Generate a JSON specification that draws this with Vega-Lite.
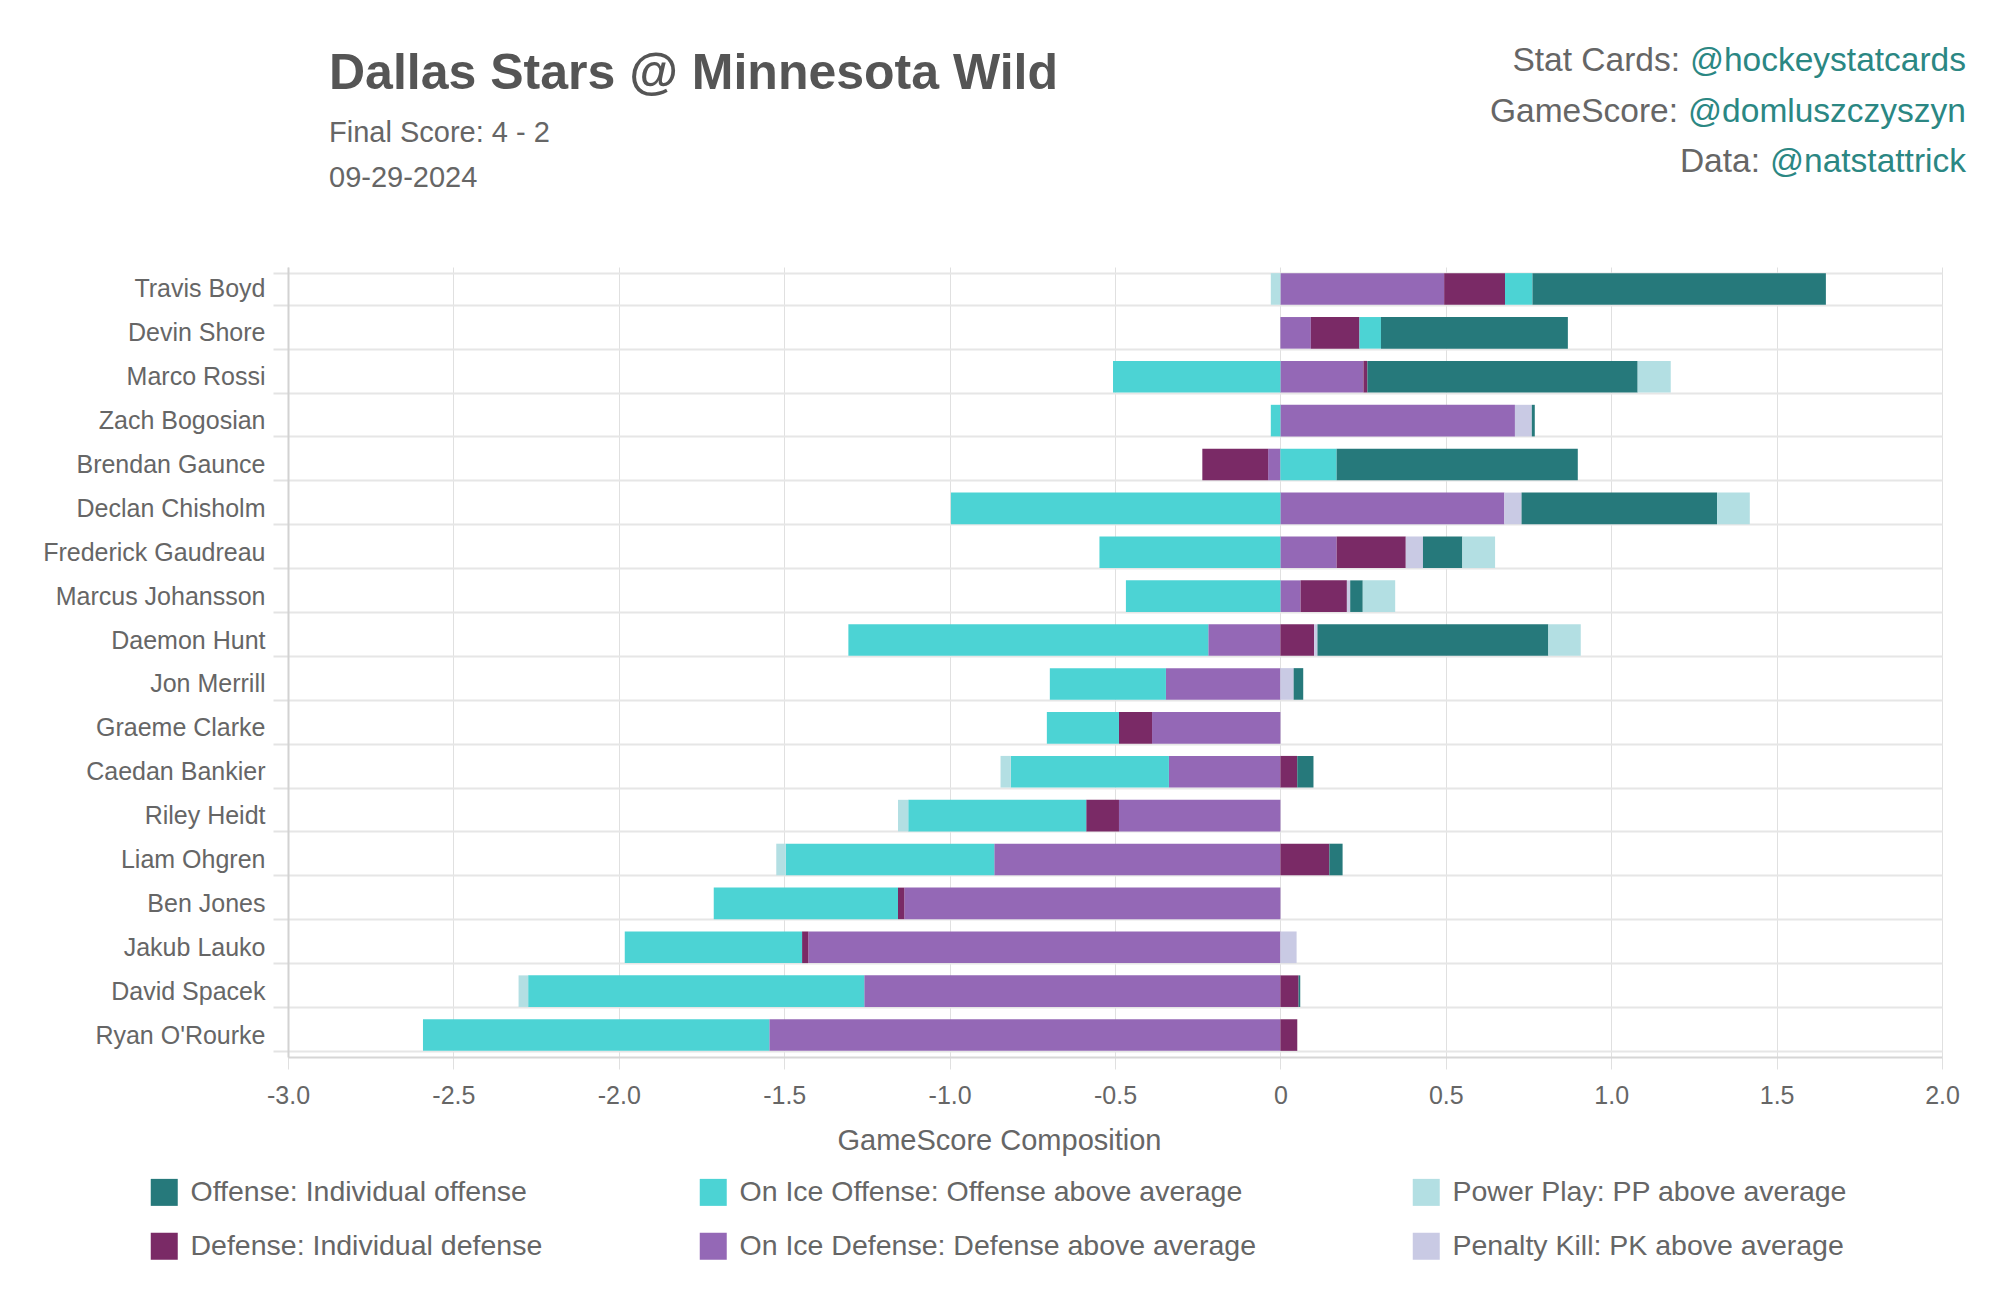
{
  "$schema": "https://vega.github.io/schema/vega-lite/v6.json",
  "width": 1654,
  "height": 790,
  "autosize": {"type": "none"},
  "padding": {"left": 288, "top": 267, "right": 58, "bottom": 244},
  "background": "white",
  "config": {
    "font": "Liberation Sans",
    "view": {"stroke": null},
    "legend": {"padding": 0}
  },
  "datasets": {
    "comps": [
      {"comp": "oid", "k": 1, "label": "On Ice Defense: Defense above average"},
      {"comp": "def", "k": 2, "label": "Defense: Individual defense"},
      {"comp": "oio", "k": 3, "label": "On Ice Offense: Offense above average"},
      {"comp": "pk", "k": 4, "label": "Penalty Kill: PK above average"},
      {"comp": "off", "k": 5, "label": "Offense: Individual offense"},
      {"comp": "pp", "k": 6, "label": "Power Play: PP above average"}
    ],
    "scores": [
      {"player": "Travis Boyd", "comp": "oid", "v": 0.495},
      {"player": "Travis Boyd", "comp": "def", "v": 0.184},
      {"player": "Travis Boyd", "comp": "oio", "v": 0.083},
      {"player": "Travis Boyd", "comp": "off", "v": 0.887},
      {"player": "Travis Boyd", "comp": "pp", "v": -0.029},
      {"player": "Devin Shore", "comp": "oid", "v": 0.092},
      {"player": "Devin Shore", "comp": "def", "v": 0.147},
      {"player": "Devin Shore", "comp": "oio", "v": 0.065},
      {"player": "Devin Shore", "comp": "off", "v": 0.565},
      {"player": "Marco Rossi", "comp": "oid", "v": 0.251},
      {"player": "Marco Rossi", "comp": "def", "v": 0.012},
      {"player": "Marco Rossi", "comp": "oio", "v": -0.506},
      {"player": "Marco Rossi", "comp": "off", "v": 0.817},
      {"player": "Marco Rossi", "comp": "pp", "v": 0.1},
      {"player": "Zach Bogosian", "comp": "oid", "v": 0.709},
      {"player": "Zach Bogosian", "comp": "oio", "v": -0.029},
      {"player": "Zach Bogosian", "comp": "pk", "v": 0.051},
      {"player": "Zach Bogosian", "comp": "off", "v": 0.009},
      {"player": "Brendan Gaunce", "comp": "oid", "v": -0.037},
      {"player": "Brendan Gaunce", "comp": "def", "v": -0.199},
      {"player": "Brendan Gaunce", "comp": "oio", "v": 0.17},
      {"player": "Brendan Gaunce", "comp": "off", "v": 0.729},
      {"player": "Declan Chisholm", "comp": "oid", "v": 0.677},
      {"player": "Declan Chisholm", "comp": "oio", "v": -0.996},
      {"player": "Declan Chisholm", "comp": "pk", "v": 0.052},
      {"player": "Declan Chisholm", "comp": "off", "v": 0.591},
      {"player": "Declan Chisholm", "comp": "pp", "v": 0.099},
      {"player": "Frederick Gaudreau", "comp": "oid", "v": 0.17},
      {"player": "Frederick Gaudreau", "comp": "def", "v": 0.209},
      {"player": "Frederick Gaudreau", "comp": "oio", "v": -0.547},
      {"player": "Frederick Gaudreau", "comp": "pk", "v": 0.052},
      {"player": "Frederick Gaudreau", "comp": "off", "v": 0.119},
      {"player": "Frederick Gaudreau", "comp": "pp", "v": 0.099},
      {"player": "Marcus Johansson", "comp": "oid", "v": 0.061},
      {"player": "Marcus Johansson", "comp": "def", "v": 0.14},
      {"player": "Marcus Johansson", "comp": "oio", "v": -0.467},
      {"player": "Marcus Johansson", "comp": "pk", "v": 0.01},
      {"player": "Marcus Johansson", "comp": "off", "v": 0.038},
      {"player": "Marcus Johansson", "comp": "pp", "v": 0.098},
      {"player": "Daemon Hunt", "comp": "oid", "v": -0.218},
      {"player": "Daemon Hunt", "comp": "def", "v": 0.102},
      {"player": "Daemon Hunt", "comp": "oio", "v": -1.088},
      {"player": "Daemon Hunt", "comp": "pk", "v": 0.01},
      {"player": "Daemon Hunt", "comp": "off", "v": 0.698},
      {"player": "Daemon Hunt", "comp": "pp", "v": 0.098},
      {"player": "Jon Merrill", "comp": "oid", "v": -0.346},
      {"player": "Jon Merrill", "comp": "oio", "v": -0.351},
      {"player": "Jon Merrill", "comp": "pk", "v": 0.04},
      {"player": "Jon Merrill", "comp": "off", "v": 0.029},
      {"player": "Graeme Clarke", "comp": "oid", "v": -0.388},
      {"player": "Graeme Clarke", "comp": "def", "v": -0.1},
      {"player": "Graeme Clarke", "comp": "oio", "v": -0.218},
      {"player": "Caedan Bankier", "comp": "oid", "v": -0.337},
      {"player": "Caedan Bankier", "comp": "def", "v": 0.051},
      {"player": "Caedan Bankier", "comp": "oio", "v": -0.478},
      {"player": "Caedan Bankier", "comp": "off", "v": 0.049},
      {"player": "Caedan Bankier", "comp": "pp", "v": -0.031},
      {"player": "Riley Heidt", "comp": "oid", "v": -0.488},
      {"player": "Riley Heidt", "comp": "def", "v": -0.099},
      {"player": "Riley Heidt", "comp": "oio", "v": -0.538},
      {"player": "Riley Heidt", "comp": "pp", "v": -0.031},
      {"player": "Liam Ohgren", "comp": "oid", "v": -0.865},
      {"player": "Liam Ohgren", "comp": "def", "v": 0.148},
      {"player": "Liam Ohgren", "comp": "oio", "v": -0.63},
      {"player": "Liam Ohgren", "comp": "off", "v": 0.04},
      {"player": "Liam Ohgren", "comp": "pp", "v": -0.029},
      {"player": "Ben Jones", "comp": "oid", "v": -1.137},
      {"player": "Ben Jones", "comp": "def", "v": -0.019},
      {"player": "Ben Jones", "comp": "oio", "v": -0.557},
      {"player": "Jakub Lauko", "comp": "oid", "v": -1.427},
      {"player": "Jakub Lauko", "comp": "def", "v": -0.019},
      {"player": "Jakub Lauko", "comp": "oio", "v": -0.536},
      {"player": "Jakub Lauko", "comp": "pk", "v": 0.049},
      {"player": "David Spacek", "comp": "oid", "v": -1.258},
      {"player": "David Spacek", "comp": "def", "v": 0.055},
      {"player": "David Spacek", "comp": "oio", "v": -1.016},
      {"player": "David Spacek", "comp": "off", "v": 0.005},
      {"player": "David Spacek", "comp": "pp", "v": -0.029},
      {"player": "Ryan O'Rourke", "comp": "oid", "v": -1.545},
      {"player": "Ryan O'Rourke", "comp": "def", "v": 0.051},
      {"player": "Ryan O'Rourke", "comp": "oio", "v": -1.047}
    ]
  },
  "layer": [
    {
      "data": {"name": "scores"},
      "transform": [
        {"lookup": "comp", "from": {"data": {"name": "comps"}, "key": "comp", "fields": ["label", "k"]}}
      ],
      "mark": {"type": "bar"},
      "encoding": {
        "y": {
          "field": "player",
          "type": "nominal",
          "sort": ["Travis Boyd", "Devin Shore", "Marco Rossi", "Zach Bogosian", "Brendan Gaunce", "Declan Chisholm", "Frederick Gaudreau", "Marcus Johansson", "Daemon Hunt", "Jon Merrill", "Graeme Clarke", "Caedan Bankier", "Riley Heidt", "Liam Ohgren", "Ben Jones", "Jakub Lauko", "David Spacek", "Ryan O'Rourke"],
          "scale": {"paddingInner": 0.28, "paddingOuter": 0.14},
          "axis": {
            "title": null,
            "labelFontSize": 25,
            "labelColor": "#666666",
            "labelPadding": 8,
            "labelLimit": 0,
            "tickSize": 15,
            "tickColor": "#e3e3e3",
            "tickWidth": 2,
            "tickBand": "extent",
            "grid": true,
            "gridColor": "#e6e6e6",
            "gridWidth": 2,
            "domainColor": "#d2d2d2",
            "domainWidth": 2
          }
        },
        "x": {
          "field": "v",
          "type": "quantitative",
          "stack": "zero",
          "scale": {"domain": [-3, 2], "nice": false, "zero": false},
          "axis": {
            "title": "GameScore Composition",
            "titleFontSize": 29,
            "titleFontWeight": "normal",
            "titleColor": "#666666",
            "titlePadding": 18,
            "titleX": 711,
            "titleAlign": "center",
            "titleAnchor": "middle",
            "values": [-3, -2.5, -2, -1.5, -1, -0.5, 0, 0.5, 1, 1.5, 2],
            "labelExpr": "datum.value === 0 ? '0' : (datum.value < 0 ? '-' : '') + format(abs(datum.value), '.1f')",
            "labelFontSize": 25,
            "labelColor": "#666666",
            "labelPadding": 14,
            "labelFlush": false,
            "tickSize": 12,
            "tickColor": "#e0e0e0",
            "grid": true,
            "gridColor": "#e0e0e0",
            "domainColor": "#d6d6d6",
            "domainWidth": 2
          }
        },
        "color": {
          "field": "label",
          "type": "nominal",
          "scale": {
            "domain": ["Offense: Individual offense", "On Ice Offense: Offense above average", "Power Play: PP above average", "Defense: Individual defense", "On Ice Defense: Defense above average", "Penalty Kill: PK above average"],
            "range": ["#26797b", "#4cd3d4", "#b3dfe3", "#7a2a66", "#9468b6", "#c9cae4"]
          },
          "legend": {
            "title": null,
            "orient": "none",
            "legendX": -138,
            "legendY": 911,
            "direction": "horizontal",
            "columns": 3,
            "columnPadding": 156,
            "rowPadding": 25,
            "symbolType": "square",
            "symbolSize": 729,
            "symbolStrokeWidth": 0,
            "symbolOpacity": 1,
            "labelFontSize": 28.5,
            "labelColor": "#666666",
            "labelLimit": 0,
            "labelOffset": 12
          }
        },
        "order": {"field": "k", "type": "quantitative"}
      }
    },
    {
      "data": {"values": [{"line": "title"}]},
      "mark": {"type": "text", "text": "Dallas Stars @ Minnesota Wild", "align": "left", "baseline": "alphabetic", "fontSize": 50, "fontWeight": "bold", "color": "#555555"},
      "encoding": {"x": {"value": 41}, "y": {"value": -178}}
    },
    {
      "data": {"values": [{"line": "subtitle"}]},
      "mark": {"type": "text", "text": ["Final Score: 4 - 2", "09-29-2024"], "lineHeight": 44.5, "align": "left", "baseline": "alphabetic", "fontSize": 29, "color": "#666666"},
      "encoding": {"x": {"value": 41}, "y": {"value": -125}}
    },
    {
      "data": {"values": [{"line": "credit1"}]},
      "mark": {"type": "text", "text": "Stat Cards:", "align": "right", "baseline": "alphabetic", "fontSize": 33.5, "color": "#666666"},
      "encoding": {"x": {"value": 1392}, "y": {"value": -196}}
    },
    {
      "data": {"values": [{"line": "credit2"}]},
      "mark": {"type": "text", "text": "GameScore:", "align": "right", "baseline": "alphabetic", "fontSize": 33.5, "color": "#666666"},
      "encoding": {"x": {"value": 1390}, "y": {"value": -145.5}}
    },
    {
      "data": {"values": [{"line": "credit3"}]},
      "mark": {"type": "text", "text": "Data:", "align": "right", "baseline": "alphabetic", "fontSize": 33.5, "color": "#666666"},
      "encoding": {"x": {"value": 1472}, "y": {"value": -95}}
    },
    {
      "data": {"values": [{"line": "handles"}]},
      "mark": {"type": "text", "text": ["@hockeystatcards", "@domluszczyszyn", "@natstattrick"], "lineHeight": 50.5, "align": "right", "baseline": "alphabetic", "fontSize": 33.5, "color": "#2b8783"},
      "encoding": {"x": {"value": 1678}, "y": {"value": -196}}
    }
  ]
}
